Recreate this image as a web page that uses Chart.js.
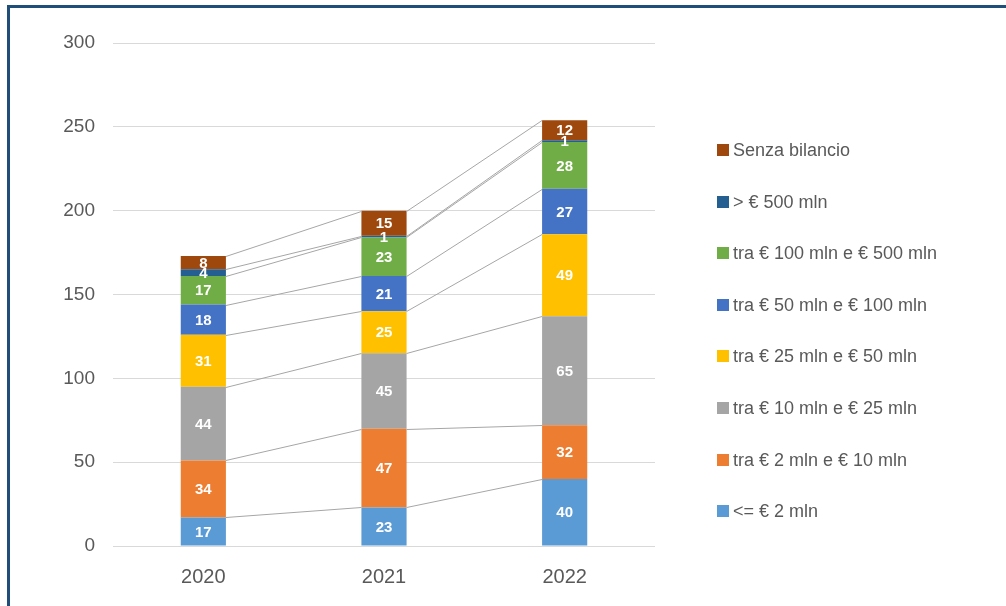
<!DOCTYPE html>
<html>
<head>
<meta charset="utf-8">
<script src="https://cdn.jsdelivr.net/npm/chart.js@4"></script>
<style>
  html, body { margin: 0; padding: 0; background: #fff; overflow: hidden; }
  #wrap { position: absolute; left: 0; top: 0; width: 1006px; height: 606px; }
  #frame {
    position: absolute; left: 7px; top: 5px; width: 1100px; height: 700px;
    border-left: 3px solid #1f4e79; border-top: 3px solid #1f4e79;
    pointer-events: none;
  }
</style>
</head>
<body>
<div id="wrap"><canvas id="myChart" width="1006" height="606"></canvas></div>
<div id="frame"></div>
<script>
const years = ["2020", "2021", "2022"];

const fino2 = [17, 23, 40];
const da2a10 = [34, 47, 32];
const da10a25 = [44, 45, 65];
const da25a50 = [31, 25, 49];
const da50a100 = [18, 21, 27];
const da100a500 = [17, 23, 28];
const oltre500 = [4, 1, 1];
const senzaBilancio = [8, 15, 12];

const yTicks = [0, 50, 100, 150, 200, 250, 300];

const textGrey = "#595959";

// Excel-style series lines between stacked segments
const seriesLines = {
  id: "seriesLines",
  afterDatasetsDraw(chart) {
    const ctx = chart.ctx;
    ctx.save();
    ctx.strokeStyle = "#a6a6a6";
    ctx.lineWidth = 1;
    chart.data.datasets.forEach((ds, d) => {
      const meta = chart.getDatasetMeta(d);
      for (let i = 0; i < meta.data.length - 1; i++) {
        const a = meta.data[i];
        const b = meta.data[i + 1];
        ctx.beginPath();
        ctx.moveTo(a.x + a.width / 2, Math.round(a.y) + 0.5);
        ctx.lineTo(b.x - b.width / 2, Math.round(b.y) + 0.5);
        ctx.stroke();
      }
    });
    ctx.restore();
  },
};

// white values inside the segments
const barLabels = {
  id: "barLabels",
  afterDatasetsDraw(chart) {
    const ctx = chart.ctx;
    ctx.save();
    ctx.fillStyle = "#ffffff";
    ctx.font = "bold 15px 'Liberation Sans', Arial, sans-serif";
    ctx.textAlign = "center";
    ctx.textBaseline = "middle";
    chart.data.datasets.forEach((ds, d) => {
      const meta = chart.getDatasetMeta(d);
      meta.data.forEach((el, i) => {
        ctx.fillText(String(ds.data[i]), el.x, (el.y + el.base) / 2 + 1);
      });
    });
    ctx.restore();
  },
};

// legend on the right, top series first
const sideLegend = {
  id: "sideLegend",
  afterDraw(chart) {
    const ctx = chart.ctx;
    const sets = chart.data.datasets.slice().reverse();
    ctx.save();
    ctx.font = "18px 'Liberation Sans', Arial, sans-serif";
    ctx.textBaseline = "middle";
    ctx.textAlign = "left";
    sets.forEach((ds, k) => {
      const y = 150 + k * 51.6;
      ctx.fillStyle = ds.backgroundColor;
      ctx.fillRect(717, Math.round(y) - 6, 12, 12);
      ctx.fillStyle = textGrey;
      ctx.fillText(ds.label, 733, y + 1);
    });
    ctx.restore();
  },
};

new Chart(document.getElementById("myChart"), {
  type: "bar",
  data: {
    labels: years,
    datasets: [
      { label: "<= € 2 mln", data: fino2, backgroundColor: "#5b9bd5" },
      { label: "tra € 2 mln e € 10 mln", data: da2a10, backgroundColor: "#ed7d31" },
      { label: "tra € 10 mln e € 25 mln", data: da10a25, backgroundColor: "#a5a5a5" },
      { label: "tra € 25 mln e € 50 mln", data: da25a50, backgroundColor: "#ffc000" },
      { label: "tra € 50 mln e € 100 mln", data: da50a100, backgroundColor: "#4472c4" },
      { label: "tra € 100 mln e € 500 mln", data: da100a500, backgroundColor: "#70ad47" },
      { label: "> € 500 mln", data: oltre500, backgroundColor: "#255e91" },
      { label: "Senza bilancio", data: senzaBilancio, backgroundColor: "#9e480e" },
    ],
  },
  options: {
    responsive: false,
    animation: false,
    events: [],
    datasets: {
      bar: { categoryPercentage: 1, barPercentage: 0.25, borderWidth: 0 },
    },
    layout: { padding: { left: 0, right: 351, top: 43, bottom: 0 } },
    plugins: {
      legend: { display: false },
      tooltip: { enabled: false },
    },
    scales: {
      x: {
        stacked: true,
        afterFit(scale) {
          scale.height = 60;
        },
        grid: { display: false, drawTicks: false },
        border: { display: false },
        ticks: {
          color: textGrey,
          padding: 19,
          font: { family: "'Liberation Sans', Arial, sans-serif", size: 20 },
        },
      },
      y: {
        stacked: true,
        min: 0,
        max: 300,
        afterFit(scale) {
          scale.width = 113;
        },
        afterBuildTicks(scale) {
          scale.ticks = yTicks.map((v) => ({ value: v }));
        },
        grid: { color: "#d9d9d9", drawTicks: false },
        border: { display: false },
        ticks: {
          color: textGrey,
          padding: 18,
          font: { family: "'Liberation Sans', Arial, sans-serif", size: 19 },
        },
      },
    },
  },
  plugins: [seriesLines, barLabels, sideLegend],
});
</script>
</body>
</html>
